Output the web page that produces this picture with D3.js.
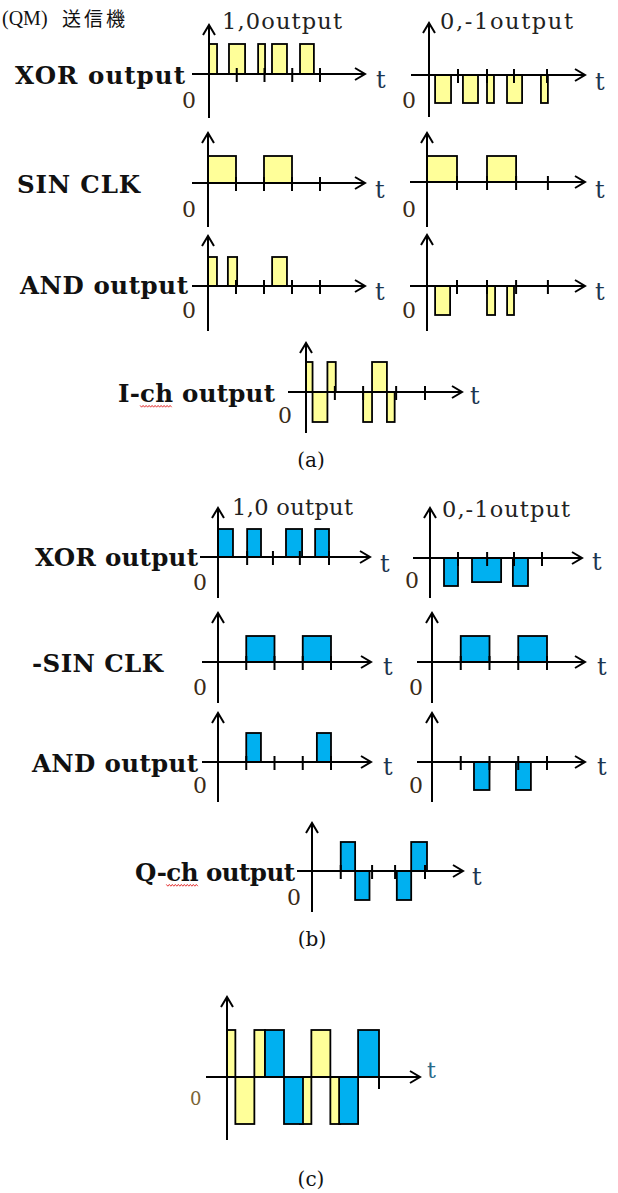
<!DOCTYPE html>
<html>
<head>
<meta charset="utf-8">
<script src="https://cdn.jsdelivr.net/npm/d3@7"></script>
<style>
  html, body { margin: 0; padding: 0; background: #fff; }
  svg { display: block; }
</style>
</head>
<body>
<svg id="fig" width="618" height="1193"></svg>
<script>
// ---- Pulse data: [start, end, level] in clock periods, level +1 / -1 ----
// (a) I-channel branch
const aXor10  = [[0, 0.29, 1], [0.72, 1.30, 1], [1.77, 2.02, 1], [2.27, 2.81, 1], [3.28, 3.78, 1]];
const aXor01  = [[0.21, 0.76, -1], [1.17, 1.69, -1], [2.0, 2.24, -1], [2.69, 3.21, -1], [3.86, 4.10, -1]];
const aSinL   = [[0, 1, 1], [2, 3, 1]];
const aSinR   = [[0, 1, 1], [2, 2.97, 1]];
const aAnd10  = [[0, 0.32, 1], [0.71, 1.04, 1], [2.29, 2.82, 1]];
const aAnd01  = [[0.27, 0.77, -1], [2.0, 2.27, -1], [2.67, 2.90, -1]];
const iChannel = [[0, 0.22, 1], [0.22, 0.72, -1], [0.72, 1.0, 1], [1.92, 2.22, -1], [2.22, 2.72, 1], [2.72, 2.98, -1]];

// (b) Q-channel branch
const bXor10  = [[0, 0.54, 1], [1.05, 1.55, 1], [2.45, 3.03, 1], [3.5, 4.0, 1]];
const bXor01  = [[0.5, 1.0, -1], [1.5, 2.54, -0.86], [2.96, 3.5, -1]];
const bNegSin = [[1, 2, 1], [3, 4, 1]];
const bAnd10  = [[1, 1.52, 1], [3.5, 4.0, 1]];
const bAnd01  = [[1.46, 2.0, -1], [2.92, 3.44, -1]];
const qChannel = [[1, 1.5, 1], [1.5, 2, -1], [2.95, 3.45, -1], [3.45, 4, 1]];

// tick marks along t, in clock periods
const ticksStd = [1, 2, 3, 4];
const ticksA1R = [1, 2, 2.93, 4.07];
const ticksA2R = [1, 2, 2.97, 4.03];
const ticksA4  = [0.97, 1.92, 3.03, 4];
const ticksB1L = [1.05, 1.98, 2.95, 4];
const ticksB1R = [1, 2.04, 3, 4];
const ticksB4  = [1, 2.09, 2.89, 3.93];
const ticksC   = [4];

// text
const rowLabels = [
  { text: "XOR output",  x: 15,  y: 84,  w: 170 },
  { text: "SIN CLK",     x: 17,  y: 193, w: 123 },
  { text: "AND output",  x: 20,  y: 294, w: 168 },
  { text: "I-ch output", x: 118, y: 402, w: 157, squiggle: true },
  { text: "XOR output",  x: 35,  y: 566, w: 163 },
  { text: "-SIN CLK",    x: 32,  y: 672, w: 131 },
  { text: "AND output",  x: 32,  y: 772, w: 166 },
  { text: "Q-ch output", x: 135, y: 881, w: 160, squiggle: true }
];
const headLabels = [
  { text: "1,0output",  x: 222, y: 29,  w: 120 },
  { text: "0,-1output", x: 440, y: 29,  w: 133 },
  { text: "1,0 output", x: 232, y: 515, w: 121 },
  { text: "0,-1output", x: 442, y: 517, w: 128 }
];
const captions = [
  { text: "(a)", x: 311, y: 467 },
  { text: "(b)", x: 312, y: 946 },
  { text: "(c)", x: 311, y: 1186 }
];

const YELLOW = "#FFFF99";
const BLUE = "#00B0F0";
const INK = "#111";
const SERIF = "'DejaVu Serif', 'Liberation Serif', serif";

// ---- Panel layout ----
const panels = [
  { ox: 209, oy: 74,  unit: 27.75, amp: 30, ext: [17, 156, 49, 44], ticks: ticksStd, series: [{ d: aXor10, fill: YELLOW }], zero: [182, 108], t: [376, 88] },
  { ox: 429, oy: 75,  unit: 29,    amp: 28, ext: [18, 156, 52, 42], ticks: ticksA1R, series: [{ d: aXor01, fill: YELLOW }], zero: [402, 108], t: [595, 90] },
  { ox: 208, oy: 183, unit: 28,    amp: 27, ext: [16, 157, 50, 44], ticks: ticksStd, series: [{ d: aSinL, fill: YELLOW }], zero: [182, 217], t: [375, 198] },
  { ox: 427, oy: 182, unit: 30,    amp: 26, ext: [17, 158, 49, 45], ticks: ticksA2R, series: [{ d: aSinR, fill: YELLOW }], zero: [402, 217], t: [595, 198] },
  { ox: 208, oy: 286, unit: 28,    amp: 29, ext: [16, 157, 50, 45], ticks: ticksStd, series: [{ d: aAnd10, fill: YELLOW }], zero: [182, 318], t: [375, 300] },
  { ox: 427, oy: 286, unit: 30,    amp: 29, ext: [17, 158, 51, 45], ticks: ticksA2R, series: [{ d: aAnd01, fill: YELLOW }], zero: [402, 318], t: [595, 300] },
  { ox: 306, oy: 392, unit: 29.75, amp: 30, ext: [18, 156, 49, 41], ticks: ticksA4,  series: [{ d: iChannel, fill: YELLOW }], zero: [278, 423], t: [470, 404] },

  { ox: 218, oy: 557, unit: 27.75, amp: 28, ext: [18, 152, 49, 41], ticks: ticksB1L, series: [{ d: bXor10, fill: BLUE }], zero: [193, 590], t: [380, 572] },
  { ox: 430, oy: 558, unit: 28,    amp: 28, ext: [17, 152, 50, 40], ticks: ticksB1R, series: [{ d: bXor01, fill: BLUE }], zero: [405, 588], t: [592, 570] },
  { ox: 218, oy: 662, unit: 28.25, amp: 26, ext: [16, 153, 49, 41], ticks: ticksStd, series: [{ d: bNegSin, fill: BLUE }], zero: [193, 695], t: [383, 675] },
  { ox: 432, oy: 662, unit: 28.75, amp: 26, ext: [15, 153, 49, 41], ticks: ticksStd, series: [{ d: bNegSin, fill: BLUE }], zero: [409, 695], t: [597, 675] },
  { ox: 218, oy: 762, unit: 28.25, amp: 29, ext: [16, 153, 49, 40], ticks: ticksStd, series: [{ d: bAnd10, fill: BLUE }], zero: [193, 793], t: [383, 775] },
  { ox: 432, oy: 762, unit: 28.75, amp: 28, ext: [15, 153, 49, 40], ticks: ticksStd, series: [{ d: bAnd01, fill: BLUE }], zero: [409, 793], t: [597, 775] },
  { ox: 312, oy: 871, unit: 28.75, amp: 29, ext: [15, 151, 48, 41], ticks: ticksB4,  series: [{ d: qChannel, fill: BLUE }], zero: [287, 905], t: [472, 885] },

  { ox: 227, oy: 1077, unit: 38, amp: 47, ext: [21, 193, 80, 63], ticks: ticksC, tickDownOnly: true,
    series: [{ d: iChannel, fill: YELLOW }, { d: qChannel, fill: BLUE }],
    zero: [190, 1105], zeroSize: 18, zeroColor: "#7a6434", t: [427, 1078], tSize: 22, tColor: "#2a6a8a" }
];

const svg = d3.select("#fig");

function drawPanel(p) {
  const g = svg.append("g");
  const x = d3.scaleLinear().domain([0, 1]).range([p.ox, p.ox + p.unit]);
  const y = d3.scaleLinear().domain([-1, 1]).range([p.oy + p.amp, p.oy - p.amp]);
  const [l, r, u, dn] = p.ext;

  // pulses
  p.series.forEach(s => {
    g.append("g").selectAll("rect").data(s.d).join("rect")
      .attr("x", d => x(d[0]))
      .attr("width", d => x(d[1]) - x(d[0]))
      .attr("y", d => Math.min(y(d[2]), y(0)))
      .attr("height", d => Math.abs(y(d[2]) - y(0)))
      .attr("fill", s.fill)
      .attr("stroke", "#000")
      .attr("stroke-width", 1.8);
  });

  const ax = g.append("g").attr("stroke", "#000").attr("stroke-width", 2).attr("fill", "none");
  const y0 = y(0), x0 = x(0);
  // time axis with open arrowhead
  ax.append("line").attr("x1", x0 - l).attr("x2", x0 + r).attr("y1", y0).attr("y2", y0);
  ax.append("path").attr("d", `M${x0 + r - 10},${y0 - 6}L${x0 + r},${y0}L${x0 + r - 10},${y0 + 6}`);
  // amplitude axis with open arrowhead
  ax.append("line").attr("x1", x0).attr("x2", x0).attr("y1", y0 - u).attr("y2", y0 + dn);
  ax.append("path").attr("d", `M${x0 - 6},${y0 - u + 10}L${x0},${y0 - u}L${x0 + 6},${y0 - u + 10}`);
  // ticks
  ax.selectAll("line.tick").data(p.ticks).join("line")
    .attr("class", "tick")
    .attr("x1", d => x(d)).attr("x2", d => x(d))
    .attr("y1", p.tickDownOnly ? y0 : y0 - 6)
    .attr("y2", p.tickDownOnly ? y0 + 12 : y0 + 8);

  // "0" and "t"
  g.append("text").attr("x", p.zero[0]).attr("y", p.zero[1])
    .attr("font-family", SERIF).attr("font-size", p.zeroSize || 22)
    .attr("fill", p.zeroColor || "#3a2a16").text("0");
  g.append("text").attr("x", p.t[0]).attr("y", p.t[1])
    .attr("font-family", SERIF).attr("font-size", p.tSize || 24)
    .attr("fill", p.tColor || "#1c3550").text("t");
}

panels.forEach(drawPanel);

// title
svg.append("text").attr("x", 2).attr("y", 25)
  .attr("font-family", "'Liberation Serif', serif").attr("font-size", 20)
  .attr("fill", INK).text("(QM)");
svg.append("text").attr("x", 62).attr("y", 26)
  .attr("font-family", "'Noto Sans CJK JP', sans-serif").attr("font-size", 19)
  .attr("textLength", 63).attr("fill", INK).text("送信機");

// column headings
svg.append("g").selectAll("text").data(headLabels).join("text")
  .attr("x", d => d.x).attr("y", d => d.y)
  .attr("textLength", d => d.w)
  .attr("font-family", SERIF).attr("font-size", 22.5)
  .attr("fill", "#222").text(d => d.text);

// row labels
const rows = svg.append("g").selectAll("text").data(rowLabels).join("text")
  .attr("x", d => d.x).attr("y", d => d.y)
  .attr("textLength", d => d.w)
  .attr("font-family", SERIF).attr("font-size", 24.5).attr("font-weight", "bold")
  .attr("fill", INK).text(d => d.text);

// spell-check style wavy underline under "ch"
rows.filter(d => d.squiggle).each(function (d) {
  const a = this.getStartPositionOfChar(2).x;
  const b = this.getEndPositionOfChar(3).x;
  const yy = d.y + 4;
  const pts = [];
  for (let xx = a, k = 0; xx <= b; xx += 1.5, k++) pts.push([xx, yy + (k % 2 ? 1.2 : -0.6)]);
  svg.append("path").attr("d", d3.line()(pts))
    .attr("fill", "none").attr("stroke", "#e02020").attr("stroke-width", 0.9);
});

// figure captions
svg.append("g").selectAll("text").data(captions).join("text")
  .attr("x", d => d.x).attr("y", d => d.y)
  .attr("text-anchor", "middle")
  .attr("font-family", SERIF).attr("font-size", 20)
  .attr("fill", INK).text(d => d.text);
</script>
</body>
</html>
